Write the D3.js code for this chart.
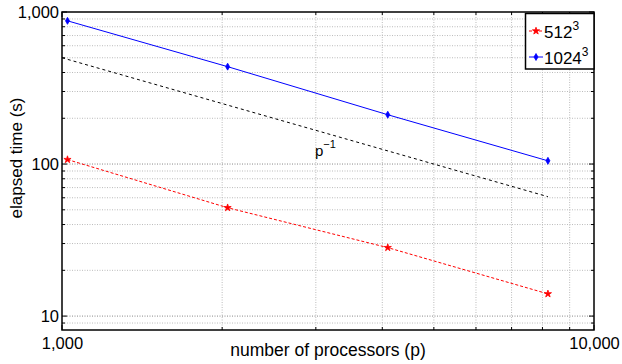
<!DOCTYPE html>
<html>
<head>
<meta charset="utf-8">
<script src="https://cdn.jsdelivr.net/npm/d3@7"></script>
<style>
  body { margin: 0; background: #fff; }
  svg { font-family: "Liberation Sans", Arial, sans-serif; }
</style>
</head>
<body>
<div class="chart-container"></div>
<script>
// processor counts and elapsed times
const procs = [1024, 2048, 4096, 8192];
const time512 = [107, 51.6, 28.2, 14.0];
const time1024 = [875, 437, 211, 105];
// ideal scaling reference line p^-1
const refProcs = [1000, 8192];
const refTime = [500, 61];
const xTickLabels = [1000, 10000];
const yTickLabels = [10, 100, 1000];

function draw() {
    const width = 622;
    const height = 364;
    const marginTop = 12;
    const marginRight = 28;
    const marginBottom = 34;
    const marginLeft = 62;

    const x = d3.scaleLog()
        .domain([1000, 10000])
        .range([marginLeft, width - marginRight]);

    const y = d3.scaleLog()
        .domain([8.1, 1000])
        .range([height - marginBottom, marginTop]);

    const svg = d3.select('.chart-container').append('svg')
        .attr('width', width)
        .attr('height', height);

    const xt = x.ticks();
    const yt = y.ticks().filter(d => d >= 8.1 && d <= 1000);
    const isMajor = d => Math.abs(Math.log10(d) - Math.round(Math.log10(d))) < 1e-9;

    // Grid
    const grid = svg.append('g').attr('fill', 'none');
    grid.selectAll('.gx')
        .data(xt.filter(d => d > 1000 && d < 10000))
        .enter().append('line')
        .attr('x1', d => x(d)).attr('x2', d => x(d))
        .attr('y1', marginTop).attr('y2', height - marginBottom)
        .attr('stroke', '#bbb')
        .attr('stroke-dasharray', '1,1.5');
    grid.selectAll('.gy')
        .data(yt.filter(d => d < 1000))
        .enter().append('line')
        .attr('x1', marginLeft).attr('x2', width - marginRight)
        .attr('y1', d => y(d)).attr('y2', d => y(d))
        .attr('stroke', d => isMajor(d) ? '#888' : '#bbb')
        .attr('stroke-dasharray', '1,1.5');

    // Inward ticks on all four sides
    const ticks = svg.append('g').attr('stroke', '#000').attr('stroke-width', 1);
    xt.forEach(d => {
        const len = isMajor(d) ? 5 : 3;
        ticks.append('line').attr('x1', x(d)).attr('x2', x(d))
            .attr('y1', height - marginBottom).attr('y2', height - marginBottom - len);
        ticks.append('line').attr('x1', x(d)).attr('x2', x(d))
            .attr('y1', marginTop).attr('y2', marginTop + len);
    });
    yt.forEach(d => {
        const len = isMajor(d) ? 5 : 3;
        ticks.append('line').attr('y1', y(d)).attr('y2', y(d))
            .attr('x1', marginLeft).attr('x2', marginLeft + len);
        ticks.append('line').attr('y1', y(d)).attr('y2', y(d))
            .attr('x1', width - marginRight).attr('x2', width - marginRight - len);
    });

    // Axes labels (tick text only)
    const xAxis = svg.append('g')
        .attr('transform', `translate(0,${height - marginBottom})`)
        .call(d3.axisBottom(x).tickValues(xTickLabels).tickFormat(d3.format(',')).tickSize(0).tickPadding(7));
    const yAxis = svg.append('g')
        .attr('transform', `translate(${marginLeft},0)`)
        .call(d3.axisLeft(y).tickValues(yTickLabels).tickFormat(d3.format(',')).tickSize(0).tickPadding(3));
    [xAxis, yAxis].forEach(a => {
        a.select('.domain').remove();
        a.selectAll('text').attr('font-size', 16.5).attr('fill', '#000')
            .attr('font-family', '"Liberation Sans", Arial, sans-serif');
    });

    // Frame
    svg.append('rect')
        .attr('x', marginLeft).attr('y', marginTop)
        .attr('width', width - marginLeft - marginRight)
        .attr('height', height - marginTop - marginBottom)
        .attr('fill', 'none').attr('stroke', '#000').attr('stroke-width', 1.5);

    const line = d3.line().x(d => x(d[0])).y(d => y(d[1]));

    // p^-1 reference
    svg.append('path')
        .datum(d3.zip(refProcs, refTime))
        .attr('d', line)
        .attr('fill', 'none').attr('stroke', '#000').attr('stroke-width', 1)
        .attr('stroke-dasharray', '3,3');
    const pl = svg.append('text')
        .attr('x', 315).attr('y', 156)
        .attr('font-size', 15);
    pl.append('tspan').text('p');
    pl.append('tspan').attr('dy', -8).attr('font-size', 11).text('\u22121');

    // Series
    const series = [
        { vals: time512, color: '#ff0000', dash: '3,2', sym: d3.symbolStar, size: 16, name: '512' },
        { vals: time1024, color: '#0000ff', dash: null, sym: d3.symbolDiamond, size: 14, name: '1024' }
    ];
    series.forEach(s => {
        const pts = d3.zip(procs, s.vals);
        svg.append('path')
            .datum(pts)
            .attr('d', line)
            .attr('fill', 'none').attr('stroke', s.color).attr('stroke-width', 1)
            .attr('stroke-dasharray', s.dash);
        svg.selectAll(null)
            .data(pts)
            .enter().append('path')
            .attr('transform', d => `translate(${x(d[0])},${y(d[1])})`)
            .attr('d', d3.symbol(s.sym, s.size))
            .attr('fill', s.color)
            .attr('stroke', s.color).attr('stroke-width', 0.8);
    });

    // Legend
    const legend = svg.append('g');
    legend.append('rect')
        .attr('x', 525.5).attr('y', 13.5)
        .attr('width', width - marginRight - 525.5).attr('height', 55.5)
        .attr('fill', '#fff').attr('stroke', '#000').attr('stroke-width', 1.5);
    series.forEach((s, i) => {
        const ly = 31 + i * 26;
        legend.append('line')
            .attr('x1', 529).attr('x2', 543).attr('y1', ly).attr('y2', ly)
            .attr('stroke', s.color).attr('stroke-dasharray', s.dash);
        legend.append('path')
            .attr('transform', `translate(536,${ly})`)
            .attr('d', d3.symbol(s.sym, s.size))
            .attr('fill', s.color).attr('stroke', s.color).attr('stroke-width', 0.8);
        const t = legend.append('text')
            .attr('x', 544).attr('y', ly + 6.5)
            .attr('font-size', 17);
        t.append('tspan').text(s.name);
        t.append('tspan').attr('dy', -8).attr('font-size', 12).text('3');
    });

    // Axis titles
    svg.append('text')
        .attr('x', 328).attr('y', 356)
        .attr('text-anchor', 'middle')
        .attr('font-size', 17.5)
        .text('number of processors (p)');
    svg.append('text')
        .attr('transform', 'translate(22,158) rotate(-90)')
        .attr('text-anchor', 'middle')
        .attr('font-size', 17)
        .text('elapsed time (s)');
}

draw();
</script>
</body>
</html>
